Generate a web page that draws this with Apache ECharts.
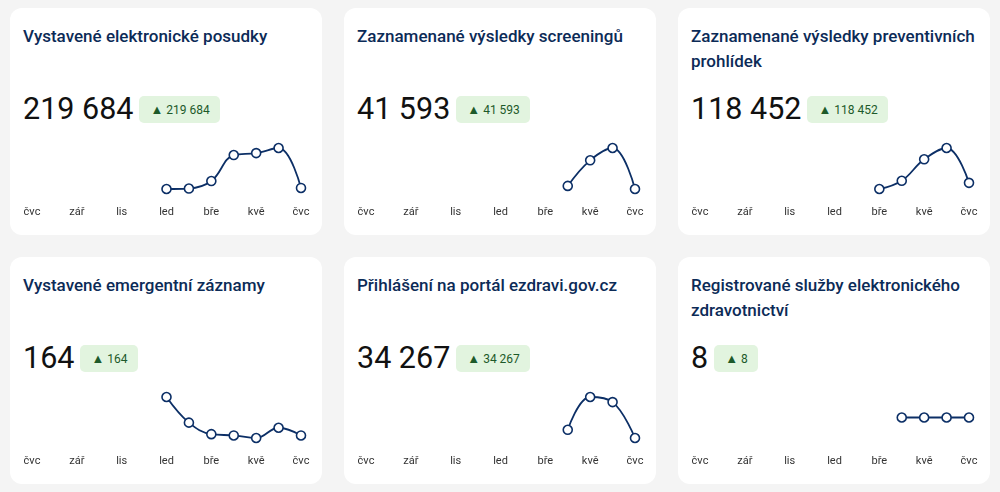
<!DOCTYPE html>
<html>
<head>
<meta charset="utf-8">
<script src="https://cdn.jsdelivr.net/npm/echarts@6/dist/echarts.min.js"></script>
<style>
html, body { margin:0; padding:0; }
body { width:1000px; height:492px; background:#f4f4f4; position:relative; overflow:hidden; font-family:Roboto, "Noto Sans", sans-serif; }
.card { position:absolute; width:312px; height:227px; background:#fff; border-radius:12px; }
.title { position:absolute; left:13px; right:10px; top:16px; font-size:17px; line-height:25px; font-weight:500; color:#0c2b57; }
.numrow { position:absolute; left:13px; top:86px; height:30px; display:flex; align-items:center; }
.num { font-size:30.5px; line-height:30px; font-weight:400; color:#111; }
.badge { margin-left:6px; height:27px; line-height:27px; padding:0 10px 0 11px; border-radius:5px; background:#e2f4df; color:#1d5a2a; font-size:12px; }
.tri { font-size:13px; margin-right:3px; }
.spark { position:absolute; left:0; top:130px; width:312px; height:97px; }
</style>
</head>
<body>
<div id="cards"></div>
<script>
var months = ['čvc','srp','zář','říj','lis','pro','led','úno','bře','dub','kvě','čvn','čvc'];

var titles = [
    'Vystavené elektronické posudky',
    'Zaznamenané výsledky screeningů',
    'Zaznamenané výsledky preventivních prohlídek',
    'Vystavené emergentní záznamy',
    'Přihlášení na portál ezdravi.gov.cz',
    'Registrované služby elektronického zdravotnictví'
];
var totals = ['219 684','41 593','118 452','164','34 267','8'];

var posudkyData     = [null,null,null,null,null,null,16500,16900,23400,45900,47600,52000,17384];
var screeningData   = [null,null,null,null,null,null,null,null,null,5500,13800,17793,4500];
var prohlidkyData   = [null,null,null,null,null,null,null,null,11200,17220,33022,41300,15710];
var emergentniData  = [null,null,null,null,null,null,47,27,18,17,15,23,17];
var prihlaseniData  = [null,null,null,null,null,null,null,null,null,5100,13800,12450,2917];
var sluzbyData      = [null,null,null,null,null,null,null,null,null,2,2,2,2];

var seriesList = [posudkyData, screeningData, prohlidkyData, emergentniData, prihlaseniData, sluzbyData];
var lefts = [10, 344, 678];
var tops = [8, 257];

function initView(){
    var box = document.getElementById('cards');
    for (var i = 0; i < 6; i++) {
        var card = document.createElement('div');
        card.className = 'card';
        card.style.left = lefts[i % 3] + 'px';
        card.style.top = tops[Math.floor(i / 3)] + 'px';
        card.innerHTML = '<div class="title">' + titles[i] + '</div>' +
            '<div class="numrow"><span class="num">' + totals[i] + '</span>' +
            '<span class="badge"><span class="tri">▲</span>' + totals[i] + '</span></div>' +
            '<div class="spark" id="spark' + i + '"></div>';
        box.appendChild(card);
        drawing(i);
    }
}

function drawing(i){
    var chart = echarts.init(document.getElementById('spark' + i));
    var option = {
        animation: false,
        grid: { left: 22, right: 21, top: 10, height: 41 },
        xAxis: {
            type: 'category',
            boundaryGap: false,
            data: months,
            axisLine: { show: false },
            axisTick: { show: false },
            axisLabel: {
                interval: 1,
                margin: 18,
                color: '#333',
                fontSize: 11,
                fontFamily: 'Roboto'
            }
        },
        yAxis: {
            type: 'value',
            show: false,
            splitLine: { show: false },
            min: function(v){ return v.min === v.max ? v.min - 1 : v.min; },
            max: function(v){ return v.min === v.max ? v.max + 1 : v.max; }
        },
        series: [{
            type: 'line',
            data: seriesList[i],
            smooth: 0.4,
            symbol: 'circle',
            symbolSize: 9,
            lineStyle: { color: '#0c2f66', width: 1.8 },
            itemStyle: { color: '#fff', borderColor: '#0c2f66', borderWidth: 1.6 }
        }]
    };
    chart.setOption(option);
}

initView();
</script>
</body>
</html>
